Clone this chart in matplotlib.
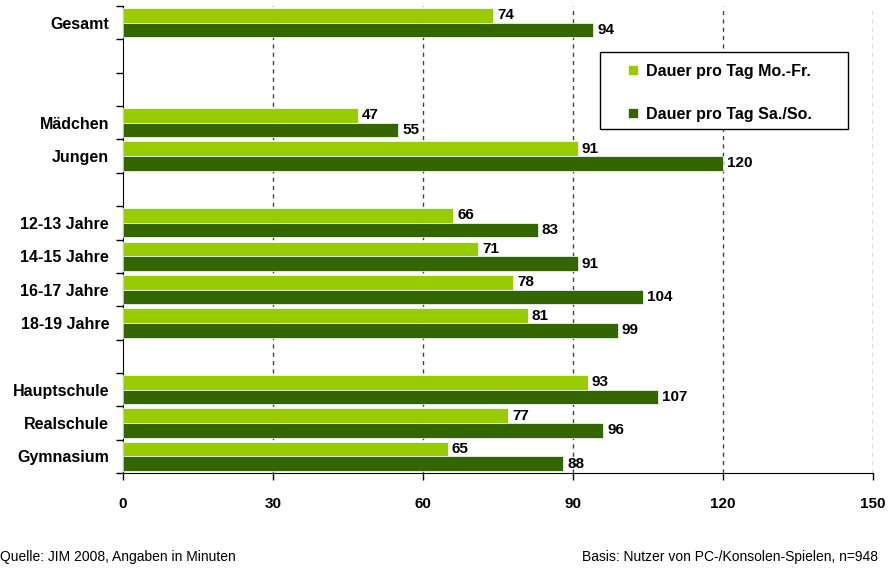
import matplotlib
matplotlib.use("Agg")
import matplotlib.pyplot as plt
from matplotlib.patches import Rectangle
import numpy as np

plt.rcParams['font.family'] = ['Liberation Sans', 'DejaVu Sans']

categories = ["Gesamt", "", "", "Mädchen", "Jungen", "", "12-13 Jahre", "14-15 Jahre",
              "16-17 Jahre", "18-19 Jahre", "", "Hauptschule", "Realschule", "Gymnasium"]
mofr = [74, None, None, 47, 91, None, 66, 71, 78, 81, None, 93, 77, 65]
saso = [94, None, None, 55, 120, None, 83, 91, 104, 99, None, 107, 96, 88]
series_names = ["Dauer pro Tag Mo.-Fr.", "Dauer pro Tag Sa./So."]
colors = ["#99CC00", "#336600"]
xticks = [0, 30, 60, 90, 120, 150]
source = "Quelle: JIM 2008, Angaben in Minuten"
basis = "Basis: Nutzer von PC-/Konsolen-Spielen, n=948"

W, H = 890, 568
fig = plt.figure(figsize=(W/100, H/100), dpi=100)
ax = fig.add_axes([123/W, 1-473/H, 750/W, 467/H])

n = len(categories)
y = np.arange(n)
h = 0.44
for i in range(n):
    if mofr[i] is not None:
        ax.barh(y[i] - h/2, mofr[i], height=h, color=colors[0], edgecolor='white', linewidth=0.5, zorder=3,
                label=series_names[0] if i == 0 else None)
        ax.text(mofr[i] + 0.8, y[i] - h/2, str(mofr[i]), va='center', ha='left',
                fontsize=11, fontweight='bold', zorder=4)
    if saso[i] is not None:
        ax.barh(y[i] + h/2, saso[i], height=h, color=colors[1], edgecolor='white', linewidth=0.5, zorder=3,
                label=series_names[1] if i == 0 else None)
        ax.text(saso[i] + 0.8, y[i] + h/2, str(saso[i]), va='center', ha='left',
                fontsize=11, fontweight='bold', zorder=4)

ax.set_xlim(0, 150)
ax.set_ylim(n - 0.5, -0.5)
ax.set_xticks(xticks)
ax.set_xticklabels([str(t) for t in xticks], fontsize=11, fontweight='bold')
ax.tick_params(axis='x', length=5, width=1, pad=12, direction='out')

ax.set_yticks(np.arange(-0.5, n, 1.0))
ax.set_yticklabels([])
ax.tick_params(axis='y', which='major', length=5, width=1, direction='out')
ax.set_yticks(y, minor=True)
ax.set_yticklabels(categories, minor=True, fontsize=11.5, fontweight='bold')
ax.tick_params(axis='y', which='minor', length=0, pad=10)

for t in xticks[1:]:
    ax.axvline(t, color='#444444', linestyle=(0, (3, 3)), linewidth=1, zorder=1)

for s in ['top', 'right']:
    ax.spines[s].set_visible(False)
ax.spines['left'].set_color('black')
ax.spines['bottom'].set_color('black')

# legend box
box = Rectangle((600/W, 1-129/H), 248/W, 77/H, transform=fig.transFigure,
                facecolor='white', edgecolor='black', linewidth=1, zorder=5)
fig.add_artist(box)
leg = fig.legend(loc='upper left', bbox_to_anchor=(628/W, 1-64/H),
                 prop={'size': 11.5, 'weight': 'bold'}, frameon=False,
                 handlelength=0.6, handleheight=0.6, labelspacing=1.75, borderpad=0,
                 handletextpad=0.5, borderaxespad=0)
leg.set_zorder(6)

fig.text(0/W, 1-557/H, source, fontsize=10, va='center', ha='left')
fig.text(878/W, 1-557/H, basis, fontsize=10, va='center', ha='right')

fig.savefig("out.png", dpi=100)
